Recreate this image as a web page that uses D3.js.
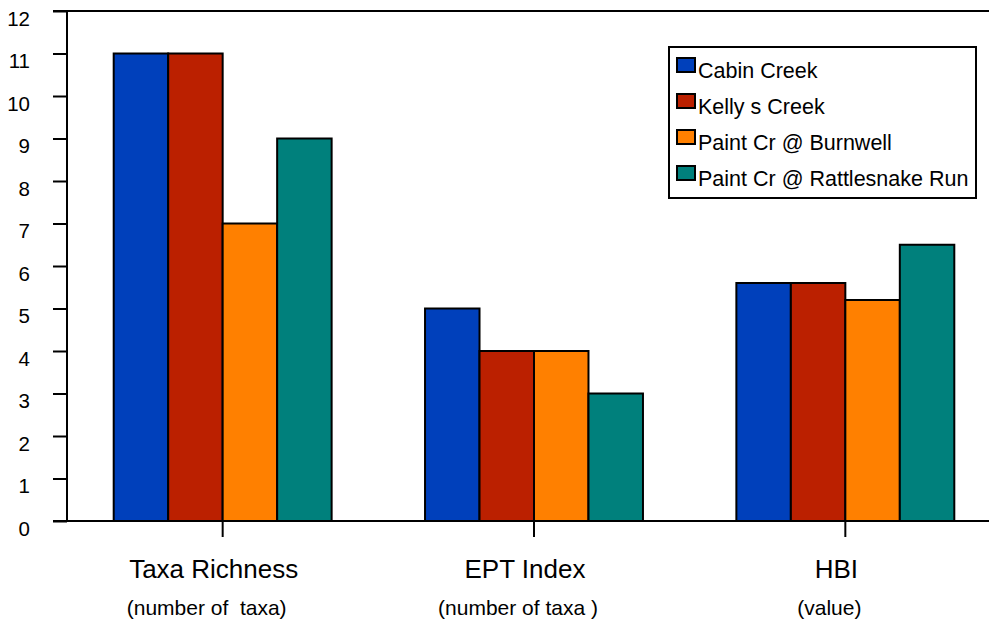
<!DOCTYPE html>
<html>
<head>
<meta charset="utf-8">
<script src="https://cdn.jsdelivr.net/npm/d3@7"></script>
<style>
  html, body { margin: 0; padding: 0; background: #fff; }
  svg { display: block; font-family: "Liberation Sans", Arial, sans-serif; }
  text { white-space: pre; }
</style>
</head>
<body>
<svg id="chart" width="989" height="625"></svg>
<script>
// Benthic macroinvertebrate metrics by sampling site
const categories = ["Taxa Richness", "EPT Index", "HBI"];
const subtitles = ["(number of  taxa)", "(number of taxa )", "(value)"];
const sites = ["Cabin Creek", "Kelly s Creek", "Paint Cr @ Burnwell", "Paint Cr @ Rattlesnake Run"];
const cabinCreek = [11, 5, 5.6];
const kellysCreek = [11, 4, 5.6];
const paintBurnwell = [7, 4, 5.2];
const paintRattlesnake = [9, 3, 6.5];
const yTicks = [0, 1, 2, 3, 4, 5, 6, 7, 8, 9, 10, 11, 12];
const colors = ["#0040BB", "#BB2000", "#FF8000", "#00807C"];

const seriesValues = [cabinCreek, kellysCreek, paintBurnwell, paintRattlesnake];

const svg = d3.select("#chart");
const plotLeft = 67, plotTop = 11, plotBottom = 521, plotRight = 1001;

const x = d3.scaleBand().domain(categories).range([plotLeft, plotRight]).padding(0);
const xs = d3.scaleBand().domain(sites)
  .range([x.bandwidth() * 0.15, x.bandwidth() * 0.85]).padding(0);
const y = d3.scaleLinear().domain([0, 12]).range([plotBottom, plotTop]);

// Bars
const groups = svg.append("g").selectAll("g")
  .data(categories)
  .join("g")
  .attr("transform", d => `translate(${x(d)},0)`);

groups.selectAll("rect")
  .data((c, ci) => sites.map((s, si) => ({ site: s, si, value: seriesValues[si][ci] })))
  .join("rect")
  .attr("x", d => xs(d.site))
  .attr("y", d => y(d.value))
  .attr("width", xs.bandwidth())
  .attr("height", d => y(0) - y(d.value))
  .attr("fill", d => colors[d.si])
  .attr("stroke", "#000")
  .attr("stroke-width", 2);

// Frame lines: top and baseline
svg.append("line").attr("x1", 53).attr("x2", 989).attr("y1", y(12)).attr("y2", y(12))
  .attr("stroke", "#000").attr("stroke-width", 2);
svg.append("line").attr("x1", 53).attr("x2", 989).attr("y1", y(0)).attr("y2", y(0))
  .attr("stroke", "#000").attr("stroke-width", 2);

// Y axis
const yAxis = d3.axisLeft(y).tickValues(yTicks).tickSize(14).tickFormat(d3.format("d"));
const yg = svg.append("g").attr("transform", `translate(${plotLeft},0)`).call(yAxis);
yg.select(".domain").attr("stroke", "#000").attr("stroke-width", 2).attr("d", `M0,${plotTop}V${plotBottom}`);
yg.selectAll(".tick line").attr("stroke", "#000").attr("stroke-width", 2);
yg.selectAll(".tick text")
  .attr("x", -37).attr("dy", null).attr("y", 14)
  .attr("font-size", 20.5).attr("font-family", "Liberation Sans, Arial, sans-serif")
  .attr("fill", "#000").attr("text-anchor", "end");

// X axis ticks and category labels
const xAxis = d3.axisBottom(x).tickSize(16).tickFormat("");
const xg = svg.append("g").attr("transform", `translate(0,${plotBottom})`).call(xAxis);
xg.select(".domain").remove();
xg.selectAll(".tick line").attr("stroke", "#000").attr("stroke-width", 2);

svg.append("g").selectAll("text.title")
  .data(categories)
  .join("text")
  .attr("class", "title")
  .attr("x", d => x(d) + x.bandwidth() / 2 - 9)
  .attr("y", 578)
  .attr("text-anchor", "middle")
  .attr("font-size", 26)
  .attr("fill", "#000")
  .text(d => d);

svg.append("g").selectAll("text.sub")
  .data(subtitles)
  .join("text")
  .attr("class", "sub")
  .attr("x", (d, i) => x(categories[i]) + x.bandwidth() / 2 - 16)
  .attr("y", 615)
  .attr("text-anchor", "middle")
  .attr("font-size", 21)
  .attr("fill", "#000")
  .text(d => d);

// Legend
const legend = svg.append("g");
legend.append("rect")
  .attr("x", 669).attr("y", 47).attr("width", 307).attr("height", 151)
  .attr("fill", "#fff").attr("stroke", "#000").attr("stroke-width", 2);
const items = legend.selectAll("g.item")
  .data(sites)
  .join("g")
  .attr("class", "item")
  .attr("transform", (d, i) => `translate(677,${58 + i * 36})`);
items.append("rect")
  .attr("width", 18).attr("height", 14)
  .attr("fill", (d, i) => colors[i])
  .attr("stroke", "#000").attr("stroke-width", 2);
items.append("text")
  .attr("x", 21).attr("y", 20)
  .attr("font-size", 21.5)
  .attr("fill", "#000")
  .text(d => d);
</script>
</body>
</html>
